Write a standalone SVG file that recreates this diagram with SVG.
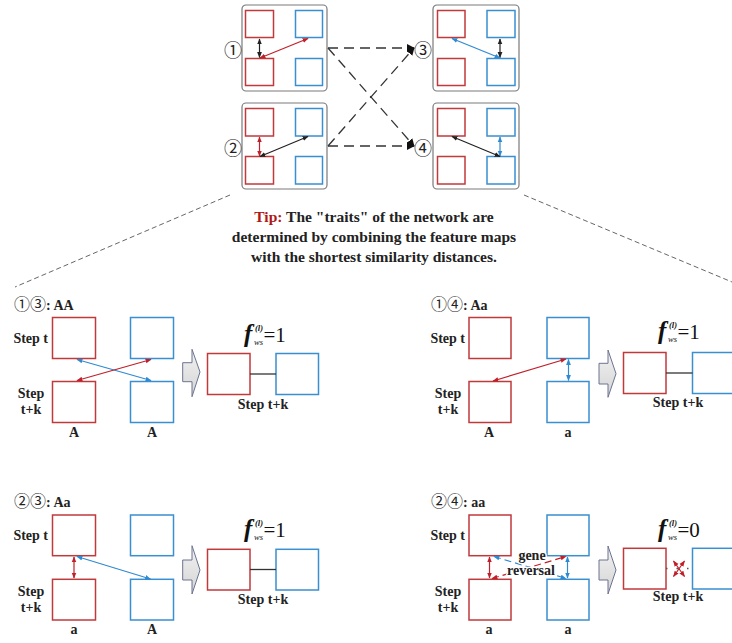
<svg xmlns="http://www.w3.org/2000/svg" width="732" height="643" viewBox="0 0 732 643">
<style>
.t{font-family:"Times New Roman","Liberation Serif",Times,"DejaVu Serif",serif;font-weight:bold;fill:#222}
.c{font-family:"Noto Sans CJK SC","DejaVu Sans",sans-serif;font-weight:normal;fill:#222}
.r{fill:#fff;stroke:#c0393b;stroke-width:1.5}
.b{fill:#fff;stroke:#3a8fd0;stroke-width:1.5}
.pb{fill:#fff;stroke:#7a7a7a;stroke-width:1.2}
.ak{stroke:#222;stroke-width:1.2;fill:none;marker-start:url(#mk);marker-end:url(#mk)}
.ar{stroke:#c0202a;stroke-width:1.2;fill:none;marker-start:url(#mr);marker-end:url(#mr)}
.ab{stroke:#2f8ad2;stroke-width:1.2;fill:none;marker-start:url(#mb);marker-end:url(#mb)}
.dl{stroke:#333;stroke-width:1.3;fill:none;stroke-dasharray:10 6;marker-end:url(#md)}
.th{stroke:#555;stroke-width:0.9;fill:none;stroke-dasharray:5 3}
.blk{fill:url(#g);stroke:#6c7390;stroke-width:1}
.fm{font-family:"Times New Roman","Liberation Serif",Times,"DejaVu Serif",serif;fill:#111}
</style>
<defs>
<marker id="mk" viewBox="0 0 10 10" refX="9" refY="5" markerWidth="5" markerHeight="5" orient="auto-start-reverse"><path d="M0,1 L10,5 L0,9 z" fill="#222"/></marker>
<marker id="mr" viewBox="0 0 10 10" refX="9" refY="5" markerWidth="5" markerHeight="5" orient="auto-start-reverse"><path d="M0,1 L10,5 L0,9 z" fill="#c0202a"/></marker>
<marker id="mb" viewBox="0 0 10 10" refX="9" refY="5" markerWidth="5" markerHeight="5" orient="auto-start-reverse"><path d="M0,1 L10,5 L0,9 z" fill="#2f8ad2"/></marker>
<marker id="md" viewBox="0 0 10 10" refX="9" refY="5" markerWidth="6" markerHeight="6" orient="auto"><path d="M0,0 L10,5 L0,10 z" fill="#111"/></marker>
<linearGradient id="g" x1="0" y1="0" x2="0" y2="1"><stop offset="0" stop-color="#f2f2f2"/><stop offset="1" stop-color="#d4d4d4"/></linearGradient>
</defs>

<g id="panel1">
<rect class="pb" x="242" y="5" width="85" height="86" rx="4"/>
<rect class="r" x="245.5" y="10.5" width="28" height="27"/>
<rect class="b" x="295.5" y="10.5" width="27" height="27"/>
<rect class="r" x="245.5" y="58.5" width="28" height="27"/>
<rect class="b" x="295.5" y="58.5" width="27" height="27"/>
<text class="c" x="233" y="56.5" font-size="18" text-anchor="middle">①</text>
</g>
<g id="panel2">
<rect class="pb" x="242" y="103" width="85" height="86" rx="4"/>
<rect class="r" x="245.5" y="108.5" width="28" height="27.5"/>
<rect class="b" x="295.5" y="108.5" width="27" height="27.5"/>
<rect class="r" x="245.5" y="156.5" width="28" height="27.5"/>
<rect class="b" x="295.5" y="156.5" width="27" height="27.5"/>
<text class="c" x="233" y="154.5" font-size="18" text-anchor="middle">②</text>
</g>
<g id="panel3">
<rect class="pb" x="433" y="5" width="86" height="86" rx="4"/>
<rect class="r" x="437.5" y="10.5" width="27.5" height="27"/>
<rect class="b" x="487" y="10.5" width="28" height="27"/>
<rect class="r" x="437.5" y="58.5" width="27.5" height="27"/>
<rect class="b" x="487" y="58.5" width="28" height="27"/>
<text class="c" x="423" y="56.5" font-size="18" text-anchor="middle">③</text>
</g>
<g id="panel4">
<rect class="pb" x="433" y="103" width="86" height="86" rx="4"/>
<rect class="r" x="437.5" y="108.5" width="27.5" height="27.5"/>
<rect class="b" x="487" y="108.5" width="28" height="27.5"/>
<rect class="r" x="437.5" y="156.5" width="27.5" height="27.5"/>
<rect class="b" x="487" y="156.5" width="28" height="27.5"/>
<text class="c" x="423" y="154.5" font-size="18" text-anchor="middle">④</text>
</g>

<g id="tip">
<text class="t" x="374" y="222" font-size="15.5" text-anchor="middle"><tspan fill="#b01818">Tip:</tspan> The "traits" of the network are</text>
<text class="t" x="374" y="242" font-size="15.5" text-anchor="middle">determined by combining the feature maps</text>
<text class="t" x="374" y="262" font-size="15.5" text-anchor="middle">with the shortest similarity distances.</text>
</g>

<g id="case13">
<text class="t" x="14" y="310" font-size="14"><tspan class="c" font-size="16">①③</tspan>: AA</text>
<rect class="r" x="52.5" y="317.5" width="43" height="41"/>
<rect class="b" x="130.5" y="317.5" width="43" height="41"/>
<rect class="r" x="52.5" y="381.5" width="43" height="41"/>
<rect class="b" x="130.5" y="381.5" width="43" height="41"/>
<text class="t" x="48" y="343" font-size="14" text-anchor="end">Step t</text>
<text class="t" x="31" y="398" font-size="14" text-anchor="middle">Step</text>
<text class="t" x="31" y="414" font-size="14" text-anchor="middle">t+k</text>
<text class="t" x="74" y="437" font-size="14" text-anchor="middle">A</text>
<text class="t" x="152" y="437" font-size="14" text-anchor="middle">A</text>
<path class="blk" d="M182.7,362.7 L192,362.7 L192,349.3 L200,372 L192,396.7 L192,381.7 L182.7,381.7 Z"/>
<rect class="r" x="207.5" y="353.5" width="42.5" height="41"/>
<rect class="b" x="276" y="353.5" width="42.5" height="41"/>
<text class="t" x="263" y="409" font-size="14" text-anchor="middle">Step t+k</text>
<g transform="translate(244,342)">
<text class="fm" x="0" y="0" font-size="25" font-weight="bold" font-style="italic">f</text>
<text class="fm" x="11" y="-11" font-size="8.5" font-weight="bold" font-style="italic">(l)</text>
<text class="fm" x="10" y="2.5" font-size="8.5" font-style="italic">ws</text>
<text class="fm" x="19.5" y="0" font-size="21">=1</text>
</g>
</g>

<g id="case14">
<text class="t" x="431" y="310" font-size="14"><tspan class="c" font-size="16">①④</tspan>: Aa</text>
<rect class="r" x="469" y="317.5" width="42" height="41"/>
<rect class="b" x="547" y="317.5" width="42" height="41"/>
<rect class="r" x="469" y="381.5" width="42" height="41"/>
<rect class="b" x="547" y="381.5" width="42" height="41"/>
<text class="t" x="465" y="343" font-size="14" text-anchor="end">Step t</text>
<text class="t" x="448" y="398" font-size="14" text-anchor="middle">Step</text>
<text class="t" x="448" y="414" font-size="14" text-anchor="middle">t+k</text>
<text class="t" x="489" y="437" font-size="14" text-anchor="middle">A</text>
<text class="t" x="568" y="437" font-size="14" text-anchor="middle">a</text>
<path class="blk" d="M599,363.3 L608,363.3 L608,350 L616,373.7 L608,397.3 L608,384 L599,384 Z"/>
<rect class="r" x="623.5" y="352.5" width="42.5" height="41"/>
<rect class="b" x="692.5" y="352.5" width="42.5" height="41"/>
<text class="t" x="678" y="407" font-size="14" text-anchor="middle">Step t+k</text>
<g transform="translate(658,339)">
<text class="fm" x="0" y="0" font-size="25" font-weight="bold" font-style="italic">f</text>
<text class="fm" x="11" y="-11" font-size="8.5" font-weight="bold" font-style="italic">(l)</text>
<text class="fm" x="10" y="2.5" font-size="8.5" font-style="italic">ws</text>
<text class="fm" x="19.5" y="0" font-size="21">=1</text>
</g>
</g>

<g id="case23">
<text class="t" x="14" y="507" font-size="14"><tspan class="c" font-size="16">②③</tspan>: Aa</text>
<rect class="r" x="52.5" y="515" width="43" height="40.7"/>
<rect class="b" x="130.5" y="515" width="43" height="40.7"/>
<rect class="r" x="52.5" y="579.3" width="43" height="40.7"/>
<rect class="b" x="130.5" y="579.3" width="43" height="40.7"/>
<text class="t" x="48" y="540" font-size="14" text-anchor="end">Step t</text>
<text class="t" x="31" y="596" font-size="14" text-anchor="middle">Step</text>
<text class="t" x="31" y="612" font-size="14" text-anchor="middle">t+k</text>
<text class="t" x="74" y="634" font-size="14" text-anchor="middle">a</text>
<text class="t" x="152" y="634" font-size="14" text-anchor="middle">A</text>
<path class="blk" d="M182.7,560 L192,560 L192,545.7 L200,570 L192,594 L192,580 L182.7,580 Z"/>
<rect class="r" x="207.5" y="549.3" width="42.5" height="40.7"/>
<rect class="b" x="276" y="549.3" width="42.5" height="40.7"/>
<text class="t" x="263" y="604" font-size="14" text-anchor="middle">Step t+k</text>
<g transform="translate(244,537)">
<text class="fm" x="0" y="0" font-size="25" font-weight="bold" font-style="italic">f</text>
<text class="fm" x="11" y="-11" font-size="8.5" font-weight="bold" font-style="italic">(l)</text>
<text class="fm" x="10" y="2.5" font-size="8.5" font-style="italic">ws</text>
<text class="fm" x="19.5" y="0" font-size="21">=1</text>
</g>
</g>

<g id="case24">
<text class="t" x="431" y="507" font-size="14"><tspan class="c" font-size="16">②④</tspan>: aa</text>
<rect class="r" x="469" y="515" width="42" height="40.7"/>
<rect class="b" x="547" y="515" width="42" height="40.7"/>
<rect class="r" x="469" y="579.3" width="42" height="40.7"/>
<rect class="b" x="547" y="579.3" width="42" height="40.7"/>
<text class="t" x="465" y="540" font-size="14" text-anchor="end">Step t</text>
<text class="t" x="448" y="596" font-size="14" text-anchor="middle">Step</text>
<text class="t" x="448" y="612" font-size="14" text-anchor="middle">t+k</text>
<text class="t" x="489" y="634" font-size="14" text-anchor="middle">a</text>
<text class="t" x="568" y="634" font-size="14" text-anchor="middle">a</text>
<path class="blk" d="M599,560 L608,560 L608,546 L616,570 L608,594 L608,580 L599,580 Z"/>
<rect class="r" x="623.5" y="548.3" width="42.5" height="40.7"/>
<rect class="b" x="692.5" y="548.3" width="42.5" height="40.7"/>
<text class="t" x="678" y="601" font-size="14" text-anchor="middle">Step t+k</text>
<g transform="translate(658,537)">
<text class="fm" x="0" y="0" font-size="25" font-weight="bold" font-style="italic">f</text>
<text class="fm" x="11" y="-11" font-size="8.5" font-weight="bold" font-style="italic">(l)</text>
<text class="fm" x="10" y="2.5" font-size="8.5" font-style="italic">ws</text>
<text class="fm" x="19.5" y="0" font-size="21">=0</text>
</g>
</g>

<g id="connectors">
<line class="ak" x1="259.5" y1="39" x2="259.5" y2="57.5"/>
<line class="ar" x1="260" y1="58" x2="308" y2="38.5"/>
<line class="ar" x1="259.5" y1="137" x2="259.5" y2="156"/>
<line class="ak" x1="260" y1="156.5" x2="308" y2="136.5"/>
<line class="ak" x1="500" y1="39" x2="500" y2="57.5"/>
<line class="ab" x1="500" y1="58" x2="452" y2="38.5"/>
<line class="ab" x1="500" y1="137" x2="500" y2="156"/>
<line class="ak" x1="500" y1="156.5" x2="452" y2="136.5"/>
<line class="dl" x1="328" y1="48" x2="414" y2="48"/>
<line class="dl" x1="328" y1="48" x2="414" y2="146"/>
<line class="dl" x1="328" y1="146" x2="414" y2="146"/>
<line class="dl" x1="328" y1="146" x2="414" y2="48"/>
<line class="th" x1="230" y1="195" x2="15" y2="287"/>
<line class="th" x1="524" y1="195" x2="732" y2="282"/>
<line class="ab" x1="77" y1="359.5" x2="151" y2="380.5"/>
<line class="ar" x1="77" y1="380.5" x2="151" y2="359.5"/>
<line x1="250" y1="374" x2="276" y2="374" stroke="#333" stroke-width="1.3"/>
<line class="ar" x1="493" y1="381" x2="566" y2="359"/>
<line class="ab" x1="568.5" y1="359.5" x2="568.5" y2="380.5"/>
<line x1="666" y1="373" x2="692.5" y2="373" stroke="#333" stroke-width="1.3"/>
<line class="ar" x1="74" y1="557" x2="74" y2="578"/>
<line class="ab" x1="77" y1="556.5" x2="150.5" y2="579"/>
<line x1="250" y1="569.5" x2="276" y2="569.5" stroke="#333" stroke-width="1.3"/>
<line class="ar" x1="489.5" y1="557" x2="489.5" y2="578"/>
<line class="ab" x1="567.5" y1="557" x2="567.5" y2="578"/>
<line class="ab" x1="494" y1="556.5" x2="566" y2="578.5" stroke-dasharray="7 4"/>
<line class="ar" x1="492" y1="578.5" x2="566" y2="556.5" stroke-dasharray="7 4"/>
<line x1="666" y1="568.5" x2="692.5" y2="568.5" stroke="#555" stroke-width="1.3" stroke-dasharray="1.5 9"/>
<line class="ar" x1="673.5" y1="561" x2="684.5" y2="576.5" stroke-width="1.8"/>
<line class="ar" x1="684.5" y1="561" x2="673.5" y2="576.5" stroke-width="1.8"/>
</g>
<g id="gene-label">
<text class="t" x="532" y="560" font-size="14" text-anchor="middle" stroke="#fff" stroke-width="2.5" paint-order="stroke">gene</text>
<text class="t" x="531" y="575" font-size="14" text-anchor="middle" stroke="#fff" stroke-width="2.5" paint-order="stroke">reversal</text>
</g>
</svg>
